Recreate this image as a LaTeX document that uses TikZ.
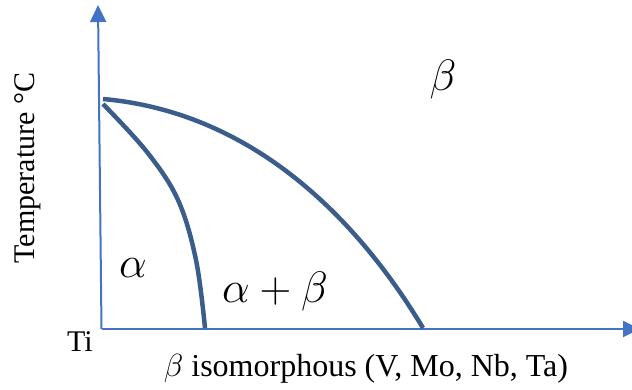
\RequirePackage{fix-cm}
\documentclass[tikz,border=0pt]{standalone}
\usepackage{fontspec}
\setmainfont{Liberation Serif}
\usetikzlibrary{arrows.meta}
\definecolor{axisblue}{RGB}{68,114,196}
\definecolor{curveblue}{RGB}{59,93,140}
\begin{document}
\begin{tikzpicture}[x=1pt,y=-1pt,
  axisline/.style={draw=axisblue,line width=2pt,-{Triangle[length=17pt,width=16pt]}},
  phaseline/.style={draw=curveblue,line width=4.5pt},
  lbl/.style={inner sep=0pt,font=\fontsize{30}{36}\selectfont},
  phase/.style={inner sep=0pt,font=\fontsize{44}{52}\selectfont}]
\useasboundingbox (0,0) rectangle (632,390);
\coordinate (origin) at (101.5,329);
\coordinate (ytop) at (98,5);
\coordinate (xend) at (640,329);
\coordinate (ub0) at (103,99);
\coordinate (ub1) at (423,328);
\draw[axisline] (origin) -- (ytop);
\draw[axisline] (origin) -- (xend);
\draw[phaseline] (ub0) .. controls (250,112) and (355,215) .. (ub1);
\draw[phaseline] plot[smooth,tension=0.6] coordinates {(103,104) (147,152) (178,200) (196,260) (205,328)};
\node[lbl,rotate=90] (temp) at (28,168) {Temperature °C};
\node[lbl,anchor=base] (ti) at (80,351) {Ti};
\node[lbl,anchor=base,font=\fontsize{32}{38}\selectfont] (xlab) at (366,376) {$\beta$ isomorphous (V, Mo, Nb, Ta)};
\node[phase] (beta) at (443,80) {$\beta$};
\node[phase] (alpha) at (133,268) {$\alpha$};
\node[phase] (ab) at (275,291) {$\alpha+\beta$};
\end{tikzpicture}
\end{document}
